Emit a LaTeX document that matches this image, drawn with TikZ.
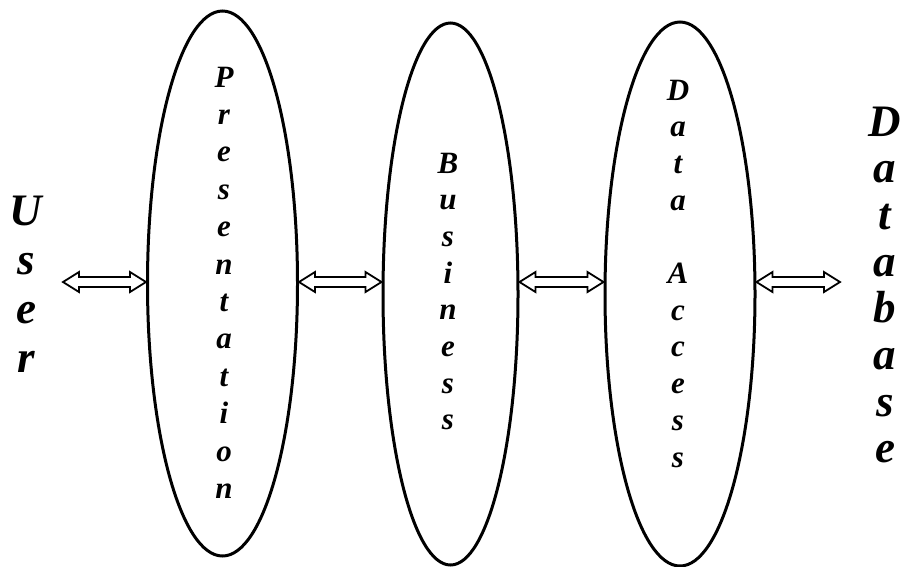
\documentclass[tikz,border=0pt]{standalone}
\usepackage{fontspec}
\setmainfont{Liberation Serif}[BoldItalicFont={Liberation Serif Bold Italic},ItalicFont={Liberation Serif Italic},BoldFont={Liberation Serif Bold}]
\usetikzlibrary{shapes.geometric,calc}
\newcommand\vstack[3]{\fontsize{#1}{#2}\selectfont\setlength{\tabcolsep}{0pt}\begin{tabular}[t]{c}#3\end{tabular}}
\newcommand\blockarrow[2]{%
  \draw[arrowline] let \p1=#1, \p2=#2 in
    (\x1,\y1) -- ($(\x1,\y1)+(16,-10)$) -- ($(\x1,\y1)+(16,-5)$) -- ($(\x2,\y1)+(-16,-5)$) -- ($(\x2,\y1)+(-16,-10)$)
    -- (\x2,\y1) -- ($(\x2,\y1)+(-16,10)$) -- ($(\x2,\y1)+(-16,5)$) -- ($(\x1,\y1)+(16,5)$) -- ($(\x1,\y1)+(16,10)$) -- cycle;}
\tikzset{
  layer/.style={ellipse,draw,line width=3pt,inner sep=0pt,minimum width=150pt},
  vlabel/.style={anchor=base,inner sep=0pt,font=\bfseries\itshape},
  arrowline/.style={draw,line width=1.8pt,line join=miter,fill=white}
}
\begin{document}
\begin{tikzpicture}[x=1pt,y=-1pt]
\useasboundingbox (0,0) rectangle (902,566);
\node[layer,minimum height=545pt] (pres) at (222.5,283.5) {};
\node[layer,minimum width=135pt,minimum height=542pt] (bus) at (450.5,294) {};
\node[layer,minimum width=150pt,minimum height=544pt] (dac) at (680,294) {};
% labels
\node[vlabel] (user) at (26,225) {\vstack{45}{49}{U\\s\\e\\r}};
\node[vlabel] (presl) at (224,87) {\vstack{31}{37.4}{P\\r\\e\\s\\e\\n\\t\\a\\t\\i\\o\\n}};
\node[vlabel] (busl) at (448,173) {\vstack{31}{36.7}{B\\u\\s\\i\\n\\e\\s\\s}};
\node[vlabel] (dacl) at (678,100) {\vstack{31}{36.7}{D\\a\\t\\a\\ \\A\\c\\c\\e\\s\\s}};
\node[vlabel] (db) at (885,136) {\vstack{45}{46.7}{D\\a\\t\\a\\b\\a\\s\\e}};
% connectors
\coordinate (lev) at (0,282);
\coordinate (uend) at (63,282);
\coordinate (dbend) at (840,282);
\blockarrow{(uend)}{(pres.west |- lev)}
\blockarrow{(pres.east |- lev)}{(bus.west |- lev)}
\blockarrow{(bus.east |- lev)}{(dac.west |- lev)}
\blockarrow{(dac.east |- lev)}{(dbend)}
\end{tikzpicture}
\end{document}
